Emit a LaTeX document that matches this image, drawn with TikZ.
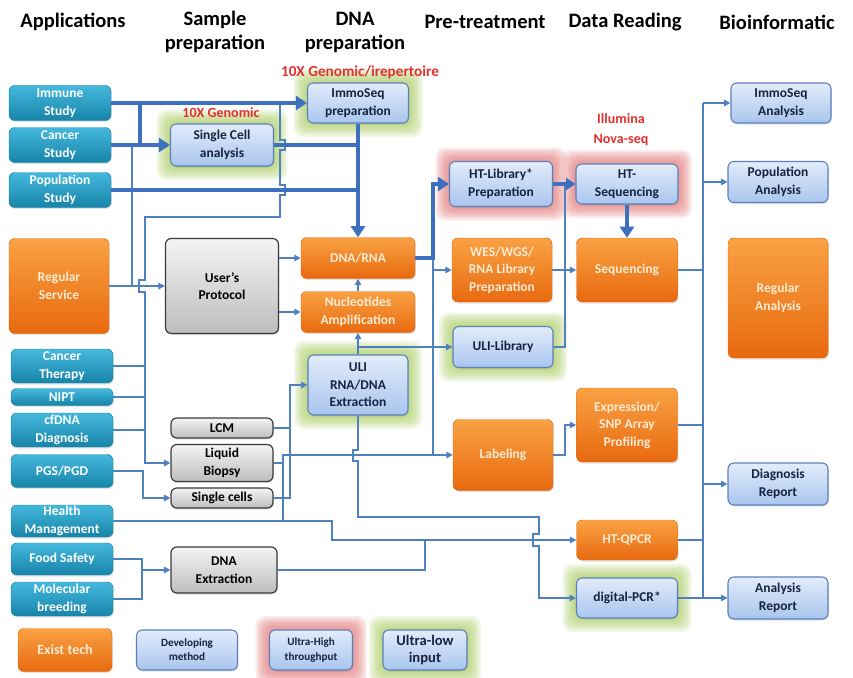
\documentclass[tikz,border=0pt]{standalone}
\usepackage{fontspec}
\setmainfont{Carlito}
\usetikzlibrary{arrows.meta,calc,backgrounds,shadows}
\definecolor{tealA}{HTML}{45B8DE}
\definecolor{tealB}{HTML}{1784A8}
\definecolor{orA}{HTML}{F9A244}
\definecolor{orB}{HTML}{E8690F}
\definecolor{orT}{HTML}{FDEBD3}
\definecolor{devA}{HTML}{E2ECFB}
\definecolor{devB}{HTML}{A9C5EE}
\definecolor{devD}{HTML}{5B80BA}
\definecolor{devT}{HTML}{16233F}
\definecolor{grA}{HTML}{F4F4F4}
\definecolor{grB}{HTML}{BDBDBD}
\definecolor{grD}{HTML}{3A3A3A}
\definecolor{lineC}{HTML}{4F80C0}
\definecolor{thkC}{HTML}{3D70BE}
\definecolor{redT}{HTML}{E3302C}
\definecolor{glowG}{HTML}{A6C95C}
\definecolor{glowR}{HTML}{E07272}
\newcommand{\myglow}[2]{%
  \foreach \d in {1pt,2.5pt,4pt,5.5pt,7pt,8.5pt,10pt,11.5pt}{%
    \fill[#2,opacity=0.14,rounded corners=8pt] ($(#1.south west)+(-\d,-\d)$) rectangle ($(#1.north east)+(\d,\d)$);}}
\begin{document}
\begin{tikzpicture}[x=0.03cm,y=-0.03cm,
  box/.style={rounded corners=5pt, align=center, inner sep=1pt,
    font=\fontsize{11.5}{15}\selectfont\bfseries,
    drop shadow={opacity=0.22, shadow xshift=0.8pt, shadow yshift=-1.3pt}},
  app/.style={box, top color=tealA, bottom color=tealB, draw=tealB, text=white},
  orng/.style={box, top color=orA, bottom color=orB, draw=orB, text=orT},
  dev/.style={box, top color=devA, bottom color=devB, draw=devD, line width=0.9pt, text=devT},
  gry/.style={box, top color=grA, bottom color=grB, draw=grD, line width=1pt, text=black},
  sz/.style 2 args={minimum width=#1*0.03cm, minimum height=#2*0.03cm},
  hdr/.style={font=\fontsize{17.5}{20.5}\selectfont\bfseries, align=center, text=black, inner sep=0pt},
  redlbl/.style={font=\fontsize{12}{17}\selectfont\bfseries, text=redT, align=center, inner sep=0pt},
  ln/.style={draw=lineC, line width=1.4pt},
  lna/.style={ln, -{Triangle[length=5.5pt,width=5.5pt]}},
  tk/.style={draw=thkC, line width=4pt},
  tka/.style={tk, -{Triangle[length=9.5pt,width=12pt]}},
]
\useasboundingbox (0,0) rectangle (853,677);

% headers
\node[hdr] (h1) at (73,22) {Applications};
\node[hdr] (h2) at (215,32) {Sample\\preparation};
\node[hdr] (h3) at (355,32) {DNA\\preparation};
\node[hdr] (h4) at (485,22) {Pre-treatment};
\node[hdr] (h5) at (625,22) {Data Reading};
\node[hdr] (h6) at (777,22) {Bioinformatic};

% red labels
\node[redlbl, font=\fontsize{13}{16}\selectfont\bfseries] (l1) at (360,72) {10X Genomic/irepertoire};
\node[redlbl] (l2) at (221,113) {10X Genomic};
\node[redlbl] (l3) at (621,130) {Illumina\\Nova-seq};

% applications
\node[app, sz={102}{35}] (immune) at (60,103) {Immune\\Study};
\node[app, sz={102}{35}] (cancer) at (60,145) {Cancer\\Study};
\node[app, sz={102}{35}] (pop) at (60,190) {Population\\Study};
\node[orng, sz={100}{95}] (regserv) at (59,286) {Regular\\Service};
\node[app, sz={102}{34}] (cther) at (62,366) {Cancer\\Therapy};
\node[app, sz={102}{17}] (nipt) at (62,397) {NIPT};
\node[app, sz={102}{34}] (cfdna) at (62,430) {cfDNA\\Diagnosis};
\node[app, sz={102}{33}] (pgs) at (62,471) {PGS/PGD};
\node[app, sz={102}{32}] (health) at (62,521) {Health\\Management};
\node[app, sz={102}{32}] (food) at (62,559) {Food Safety};
\node[app, sz={102}{34}] (molec) at (62,599) {Molecular\\breeding};

% sample preparation
\node[dev, sz={103}{42}] (sca) at (222,145) {Single Cell\\analysis};
\node[gry, sz={113}{95}] (usr) at (222,286) {User's\\Protocol};
\node[gry, sz={102}{20}] (lcm) at (222,428) {LCM};
\node[gry, sz={102}{37}] (liq) at (222,463) {Liquid\\Biopsy};
\node[gry, sz={102}{20}] (scl) at (222,498) {Single cells};
\node[gry, sz={106}{46}] (dnx) at (224,570) {DNA\\Extraction};

% DNA preparation
\node[dev, sz={101}{40}] (imm) at (358,103) {ImmoSeq\\preparation};
\node[orng, sz={114}{41}] (dnarna) at (358,258) {DNA/RNA};
\node[orng, sz={114}{41}] (nuc) at (358,312) {Nucleotides\\Amplification};
\node[dev, sz={100}{60}] (uliext) at (358,385) {ULI\\RNA/DNA\\Extraction};

% pre-treatment
\node[dev, sz={103}{45}] (htlib) at (501,184) {HT-Library*\\Preparation};
\node[orng, sz={100}{64}] (wes) at (502,270) {WES/WGS/\\RNA Library\\Preparation};
\node[dev, sz={100}{41}] (ulilib) at (503,347) {ULI-Library};
\node[orng, sz={100}{71}] (lab) at (503,455) {Labeling};

% data reading
\node[dev, sz={102}{40}] (htseq) at (627,184) {HT-\\Sequencing};
\node[orng, sz={101}{64}] (seq) at (627,270) {Sequencing};
\node[orng, sz={101}{74}] (expr) at (627,425) {Expression/\\SNP Array\\Profiling};
\node[orng, sz={101}{40}] (htq) at (627,540) {HT-QPCR};
\node[dev, sz={101}{40}] (dpcr) at (627,598) {digital-PCR*};

% bioinformatic
\node[dev, sz={100}{40}] (immoa) at (781,103) {ImmoSeq\\Analysis};
\node[dev, sz={100}{41}] (popa) at (778,182) {Population\\Analysis};
\node[orng, sz={100}{120}] (rega) at (778,298) {Regular\\Analysis};
\node[dev, sz={100}{42}] (diag) at (778,484) {Diagnosis\\Report};
\node[dev, sz={100}{42}] (anrep) at (778,598) {Analysis\\Report};

% legend
\node[orng, sz={94}{43}, font=\fontsize{12}{14}\selectfont\bfseries] (ext) at (65,650) {Exist tech};
\node[dev, sz={101}{40}, font=\fontsize{9.5}{12}\selectfont\bfseries] (devm) at (187,650) {Developing\\method};
\node[dev, sz={83}{40}, font=\fontsize{9.5}{12}\selectfont\bfseries] (uht) at (311,650) {Ultra-High\\throughput};
\node[dev, sz={84}{40}, font=\fontsize{12.5}{15}\selectfont\bfseries] (uli) at (425,650) {Ultra-low\\input};

% glows
\begin{scope}[on background layer]
\myglow{sca}{glowG}
\myglow{imm}{glowG}
\myglow{uliext}{glowG}
\myglow{ulilib}{glowG}
\myglow{dpcr}{glowG}
\myglow{uli}{glowG}
\myglow{htlib}{glowR}
\myglow{htseq}{glowR}
\myglow{uht}{glowR}
\end{scope}

% thin connectors
\draw[lna] (280,103) -- (280,140) -- (285,140) -- (285,150) -- (280,150) -- (280,185) -- (285,185) -- (285,195) -- (280,195) -- (280,217) -- (145,217) -- (145,280) -- (139,280) -- (139,292) -- (145,292) -- (145,463) -- (liq.west);
\draw[ln] (132,145) -- (132,286);
\draw[lna] (regserv.east) -- (usr.west);
\draw[ln] (cther.east) -- (145,366);
\draw[ln] (nipt.east) -- (145,397);
\draw[ln] (cfdna.east) -- (145,430);
\draw[lna] (pgs.east) -- (143,471) -- (143,498) -- (scl.west);
\draw[lna] (health.east) -- (332,521) -- (332,540) -- (htq.west);
\draw[ln] (dnx.east) -- (425,570) -- (425,540);
\draw[ln] (food.east) -- (142,559) -- (142,599) -- (molec.east);
\draw[lna] (142,570) -- (dnx.west);
\draw[ln] (lcm.east) -- (290,428);
\draw[lna] (scl.east) -- (290,498) -- (290,385) -- (uliext.west);
\draw[ln] (liq.east) -- (283,463);
\draw[lna] (283,521) -- (283,455) -- (lab.west);
\draw[lna] (uliext.south) -- (358,450) -- (353,450) -- (353,461) -- (358,461) -- (358,517) -- (539,517) -- (539,534) -- (533,534) -- (533,546) -- (539,546) -- (539,598) -- (dpcr.west);
\draw[lna] (uliext.north) -- (nuc.south);
\draw[lna] (358,347) -- (ulilib.west);
\draw[lna] (nuc.north) -- (dnarna.south);
\draw[lna] (usr.east |- dnarna.west) -- (dnarna.west);
\draw[lna] (usr.east |- nuc.west) -- (nuc.west);
\draw[ln] (433,258) -- (433,455);
\draw[lna] (433,270) -- (wes.west);
\draw[lna] (wes.east) -- (seq.west);
\draw[ln] (565,184) -- (565,347) -- (ulilib.east);
\draw[ln] (seq.east) -- (703,270);
\draw[ln] (703,103) -- (703,598);
\draw[lna] (703,103) -- (immoa.west);
\draw[lna] (703,182) -- (popa.west);
\draw[lna] (703,484) -- (diag.west);
\draw[ln] (expr.east) -- (703,425);
\draw[ln] (htq.east) -- (703,540);
\draw[lna] (dpcr.east) -- (anrep.west);
\draw[lna] (lab.east) -- (565,455) -- (565,425) -- (expr.west);

% thick connectors
\draw[tka] (immune.east) -- (imm.west);
\draw[tk] (140,103) -- (140,145);
\draw[tka] (cancer.east) -- (sca.west);
\draw[tk] (sca.east) -- (360,145);
\draw[tk] (pop.east) -- (360,190);
\draw[tka] (imm.south) -- (dnarna.north);
\draw[tka] (dnarna.east) -- (433,258) -- (433,184) -- (htlib.west);
\draw[tk, line width=3pt, -{Triangle[length=8pt,width=10pt]}] (htlib.east) -- (htseq.west);
\draw[tka] (htseq.south) -- (seq.north);
\end{tikzpicture}
\end{document}
